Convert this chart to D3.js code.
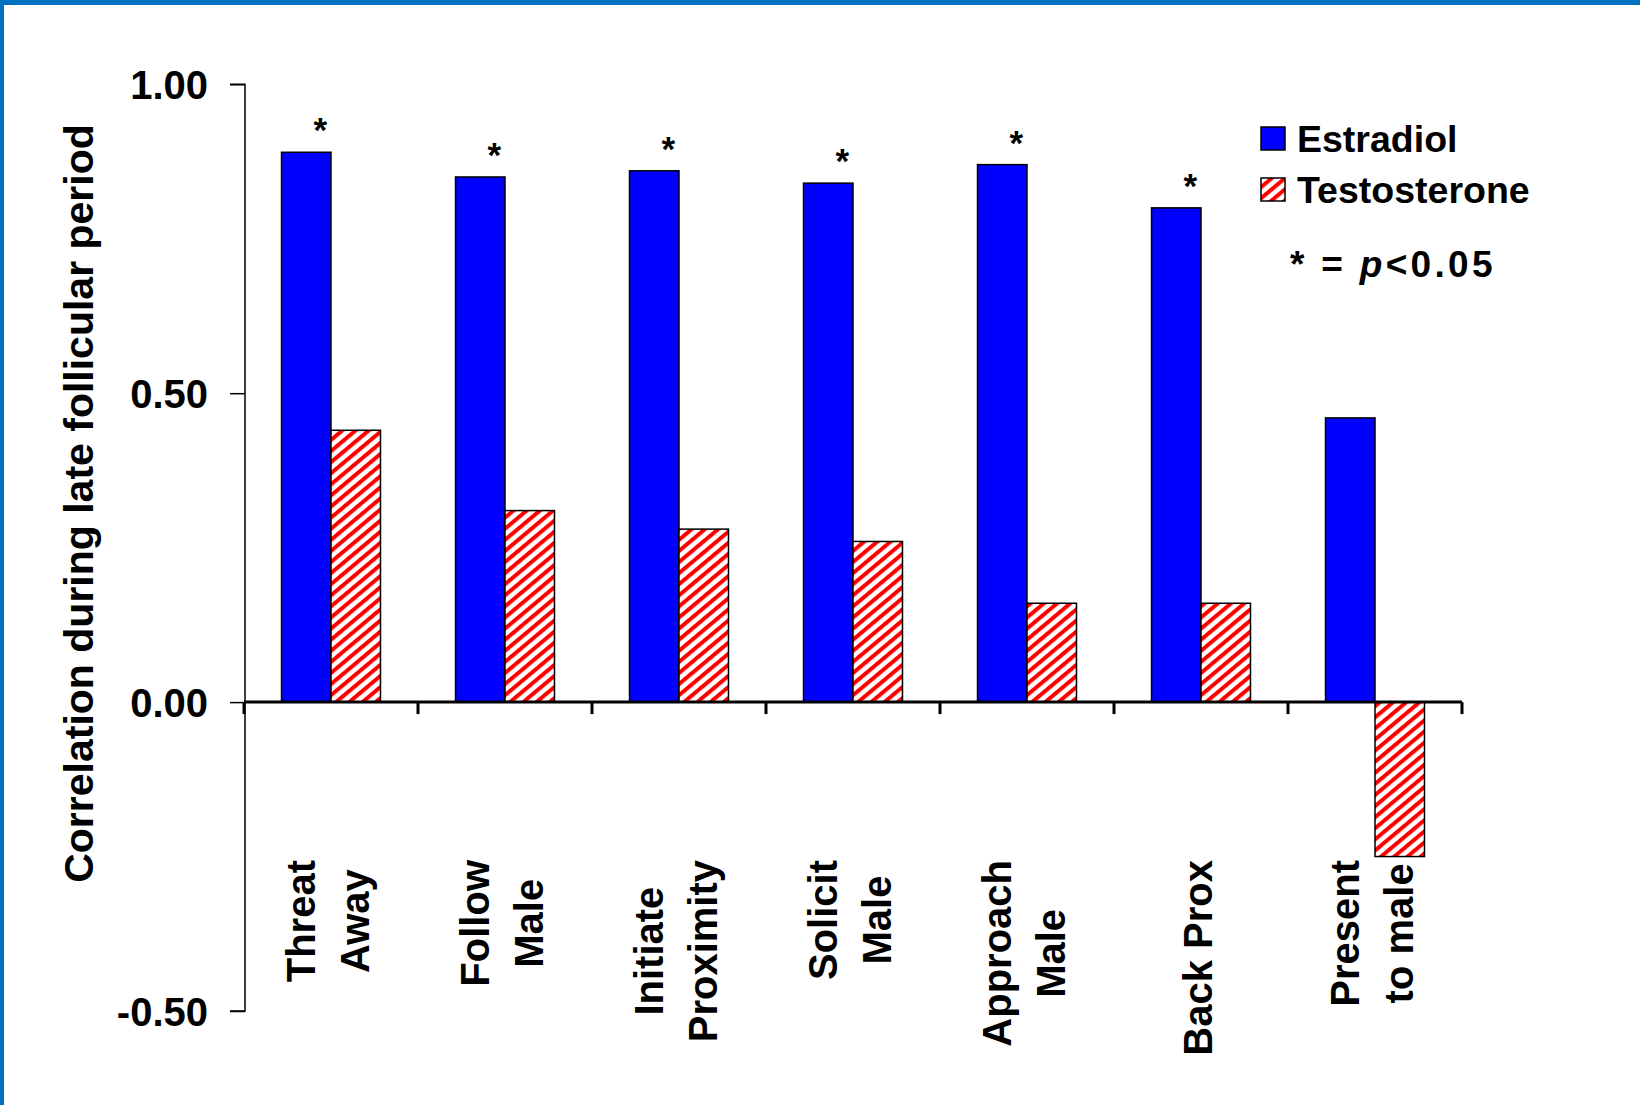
<!DOCTYPE html>
<html>
<head>
<meta charset="utf-8">
<script src="https://cdn.jsdelivr.net/npm/d3@7"></script>
<style>
  html, body { margin: 0; padding: 0; background: #fff; }
  svg { display: block; }
  text { font-family: "Liberation Sans", Arial, Helvetica, sans-serif; font-weight: bold; fill: #000; }
</style>
</head>
<body>
<svg id="chart" width="1640" height="1105"></svg>
<script>
// Behaviour categories (line breaks mark the wrapped axis labels)
const categories = [
  "Threat\nAway",
  "Follow\nMale",
  "Initiate\nProximity",
  "Solicit\nMale",
  "Approach\nMale",
  "Back Prox",
  "Present\nto male"
];
// Correlation with each hormone during the late follicular period
const estradiol    = [0.89, 0.85, 0.86, 0.84, 0.87, 0.80, 0.46];
const testosterone = [0.44, 0.31, 0.28, 0.26, 0.16, 0.16, -0.25];
// Estradiol correlations reaching p < 0.05
const significant  = [true, true, true, true, true, true, false];
const seriesNames  = ["Estradiol", "Testosterone"];
const yTicks       = [1.00, 0.50, 0.00, -0.50];
const yTitle       = "Correlation during late follicular period";

const svg = d3.select("#chart");

// frame edges
svg.append("rect").attr("x", 0).attr("y", 0).attr("width", 1640).attr("height", 5).attr("fill", "#0070C0");
svg.append("rect").attr("x", 0).attr("y", 0).attr("width", 4).attr("height", 1105).attr("fill", "#0070C0");

// stripe fill for the testosterone series
const defs = svg.append("defs");
const pat = defs.append("pattern")
  .attr("id", "hatch")
  .attr("patternUnits", "userSpaceOnUse")
  .attr("width", 8.5).attr("height", 8.5)
  .attr("patternTransform", "rotate(-40)");
pat.append("rect").attr("width", 8.5).attr("height", 8.5).attr("fill", "#fff");
pat.append("rect").attr("y", 0).attr("width", 8.5).attr("height", 4).attr("fill", "#ff0000");

const fills = { "Estradiol": "#0000ff", "Testosterone": "url(#hatch)" };

const plot = { left: 244, right: 1462, top: 84.3, bottom: 1011 };

const y = d3.scaleLinear().domain([-0.5, 1]).range([plot.bottom, plot.top]);
const x0 = d3.scaleBand().domain(categories).range([plot.left, plot.right]).padding(0);
const x1 = d3.scaleBand().domain(seriesNames).range([0, x0.bandwidth()])
  .paddingInner(0).paddingOuter(0.758);

const rows = categories.map((c, i) => ({
  cat: c,
  values: [
    { key: "Estradiol", v: estradiol[i] },
    { key: "Testosterone", v: testosterone[i] }
  ],
  sig: significant[i]
}));

// y axis (plain hyphen for negative values)
const fmt = d3.format(".2f");
const yAxis = d3.axisLeft(y).tickValues(yTicks)
  .tickFormat(d => fmt(d).replace("\u2212", "-"))
  .tickSize(15).tickPadding(22);
const gy = svg.append("g").attr("transform", `translate(${plot.left + 1},0)`).call(yAxis);
gy.select(".domain").attr("d", `M-15,${y(1)}H0V${y(-0.5)}H-15`).attr("stroke", "#000").attr("stroke-width", 1.5).attr("fill", "none");
gy.selectAll(".tick line").attr("stroke", "#000").attr("stroke-width", 1.5);
gy.selectAll(".tick text")
  .attr("font-size", 40).attr("font-family", "'Liberation Sans', Arial, sans-serif")
  .attr("font-weight", "bold").attr("fill", "#000").attr("dy", "0.36em");

// bars
const groups = svg.append("g").selectAll("g").data(rows).join("g")
  .attr("transform", d => `translate(${x0(d.cat)},0)`);

groups.selectAll("rect").data(d => d.values).join("rect")
  .attr("x", d => x1(d.key))
  .attr("width", x1.bandwidth())
  .attr("y", d => y(Math.max(0, d.v)))
  .attr("height", d => Math.abs(y(d.v) - y(0)))
  .attr("fill", d => fills[d.key])
  .attr("stroke", "#000")
  .attr("stroke-width", 1.5);

// significance markers
groups.filter(d => d.sig).append("text")
  .attr("x", x1("Estradiol") + x1.bandwidth() / 2 + 14)
  .attr("y", d => y(d.values[0].v) - 10)
  .attr("text-anchor", "middle")
  .attr("font-size", 35)
  .text("*");

// category axis along zero
const xAxisG = svg.append("g");
xAxisG.append("line")
  .attr("x1", plot.left).attr("x2", plot.right)
  .attr("y1", y(0)).attr("y2", y(0))
  .attr("stroke", "#000").attr("stroke-width", 3);
const boundaries = categories.map(c => x0(c)).concat([plot.right]);
xAxisG.selectAll("line.tick").data(boundaries).join("line")
  .attr("class", "tick")
  .attr("x1", d => d).attr("x2", d => d)
  .attr("y1", y(0)).attr("y2", y(0) + 12)
  .attr("stroke", "#000").attr("stroke-width", 3);

// rotated category labels
const lineGap = 54, capH = 28.6, labelTop = 860;
rows.forEach(r => {
  const lines = r.cat.split("\n");
  const cx = x0(r.cat) + x0.bandwidth() / 2 - 3;
  const g = svg.append("g");
  const texts = lines.map((ln, i) => {
    const bx = cx + (i - (lines.length - 1) / 2) * lineGap + capH / 2;
    return g.append("text").attr("font-size", 40).attr("text-anchor", "middle")
      .attr("data-bx", bx).text(ln);
  });
  const maxLen = d3.max(texts, t => t.node().getComputedTextLength());
  const cy = labelTop + maxLen / 2;
  texts.forEach(t => {
    t.attr("transform", `translate(${+t.attr("data-bx")},${cy}) rotate(-90)`).attr("data-bx", null);
  });
});

// y axis title
svg.append("text")
  .attr("transform", `translate(92.5,503.5) rotate(-90)`)
  .attr("text-anchor", "middle")
  .attr("font-size", 41)
  .text(yTitle);

// legend
const legend = svg.append("g");
seriesNames.forEach((name, i) => {
  const gy0 = 127 + i * 51;
  legend.append("rect").attr("x", 1261).attr("y", gy0).attr("width", 24).attr("height", 23)
    .attr("fill", fills[name]).attr("stroke", "#000").attr("stroke-width", 1.5);
  legend.append("text").attr("x", 1297).attr("y", gy0 + 25).attr("font-size", 37.5).text(name);
});
const note = legend.append("text").attr("x", 1290).attr("y", 277).attr("font-size", 37)
  .attr("letter-spacing", 3.3);
note.append("tspan").text("* = ");
note.append("tspan").attr("font-style", "italic").text("p");
note.append("tspan").text("<0.05");
</script>
</body>
</html>
